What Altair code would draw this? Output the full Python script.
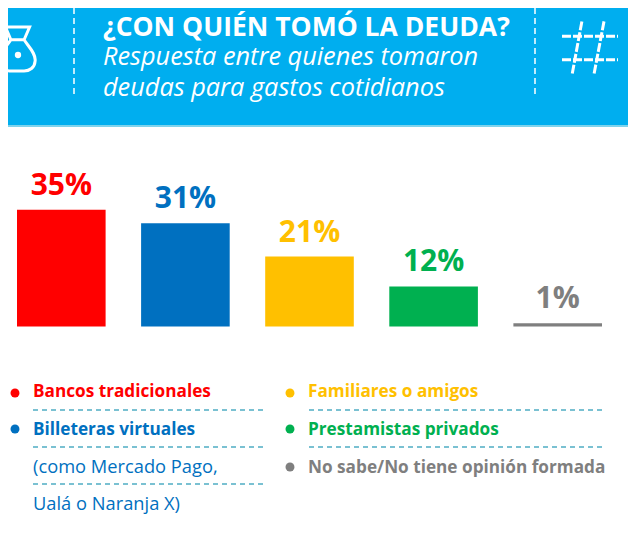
import altair as alt
import pandas as pd

categories = ["Bancos tradicionales", "Billeteras virtuales", "Familiares o amigos", "Prestamistas privados", "No sabe/No tiene opinión formada"]
values = [35, 31, 21, 12, 1]
colors = ["#FF0000", "#0070C0", "#FFC000", "#00B050", "#7F7F7F"]
labels = ["35%", "31%", "21%", "12%", "1%"]
title_text = "¿CON QUIÉN TOMÓ LA DEUDA?"
subtitle_lines = ["Respuesta entre quienes tomaron", "deudas para gastos cotidianos"]
blue_extra = ["(como Mercado Pago,", "Ualá o Naranja X)"]

FONT = "Open Sans"
OX, OY = 8, 8


def px(v):
    return alt.value(v - OX)


def py(v):
    return alt.value(v - OY)


def text(t, x, y, size, color, weight="normal", style="normal"):
    return alt.Chart(alt.Data(values=[{"t": t}])).mark_text(
        font=FONT, fontSize=size, color=color, fontWeight=weight, fontStyle=style,
        align="left", baseline="alphabetic",
    ).encode(x=px(x), y=py(y), text="t:N")


def hdash(x1, x2, y):
    return alt.Chart(alt.Data(values=[{"a": 1}])).mark_rule(
        color="#4FADC4", strokeWidth=1.5, strokeDash=[5, 4]
    ).encode(x=px(x1), x2=px(x2), y=py(y))


def vdash(x, y1, y2):
    return alt.Chart(alt.Data(values=[{"a": 1}])).mark_rule(
        color="#FFFFFF", strokeWidth=1.5, strokeDash=[6, 4]
    ).encode(x=px(x), y=py(y1), y2=py(y2))


def band(y1, y2, color):
    return alt.Chart(alt.Data(values=[{"a": 1}])).mark_rect(color=color).encode(
        x=alt.value(0), x2=alt.value(620), y=py(y1) if y1 >= OY else alt.value(0), y2=py(y2)
    )


def glyph(path, x, y, size, sw, dash=None):
    kw = {"strokeDash": dash} if dash else {}
    return alt.Chart(alt.Data(values=[{"a": 1}])).mark_point(
        shape=path, size=size, stroke="#FFFFFF", strokeWidth=sw, filled=False, opacity=1, **kw
    ).encode(x=px(x), y=py(y))


def bullet(x, y, color):
    return alt.Chart(alt.Data(values=[{"a": 1}])).mark_circle(
        size=80, color=color, opacity=1
    ).encode(x=px(x), y=py(y))


df = pd.DataFrame({"cat": categories, "val": values, "col": colors, "lab": labels})

x_scale = alt.Scale(domain=categories, range=[9, 594], paddingInner=0.286, paddingOuter=0)
y_scale = alt.Scale(domain=[-61.7, 95.6], range=[524, 0], nice=False, zero=False)

bars = alt.Chart(df).mark_bar(orient="vertical").encode(
    x=alt.X("cat:N", scale=x_scale, axis=None, sort=categories),
    y=alt.Y("val:Q", scale=y_scale, axis=None),
    y2=alt.Y2(datum=0),
    color=alt.Color("col:N", scale=None, legend=None),
)
bar_labels = alt.Chart(df).mark_text(
    font=FONT, fontSize=30, fontWeight="bold", baseline="alphabetic", align="center", dy=-15
).encode(
    x=alt.X("cat:N", scale=x_scale, axis=None, sort=categories, bandPosition=0.5),
    y=alt.Y("val:Q", scale=y_scale, axis=None),
    color=alt.Color("col:N", scale=None, legend=None),
    text="lab:N",
)

bag = ("M-0.55,-1 L0.55,-1 L0.3,-0.42 C0.5,-0.1 0.85,0.2 0.8,0.55 C0.78,0.85 0.55,1 0.3,1 "
       "L-0.3,1 C-0.55,1 -0.78,0.85 -0.8,0.55 C-0.85,0.2 -0.5,-0.1 -0.3,-0.42 Z "
       "M-0.3,-0.42 L0.3,-0.42")
hash_path = ("M-1,-0.42 L1,-0.42 M-1,0.42 L1,0.42 "
             "M-0.29,-0.95 L-0.64,0.95 M0.5,-0.95 L0.14,0.95")

layers = [
    band(0, 125, "#00AEEF"),
    band(125, 127, "#7FD3EC"),
    vdash(74, 8, 98),
    vdash(535, 8, 98),
    glyph(bag, 17.5, 49, 1936, 3),
    alt.Chart(alt.Data(values=[{"a": 1}])).mark_circle(size=40, color="#FFFFFF", opacity=1).encode(x=px(18), y=py(55)),
    glyph(hash_path, 590, 48, 3136, 3, [9, 2]),
    text(title_text, 103, 35.5, 26.5, "#FFFFFF", "bold"),
    text(subtitle_lines[0], 103, 65, 25.3, "#FFFFFF", "normal", "italic"),
    text(subtitle_lines[1], 103, 96, 25.3, "#FFFFFF", "normal", "italic"),
    bars,
    bar_labels,
    bullet(15, 393, colors[0]),
    bullet(15, 429, colors[1]),
    bullet(290, 393, colors[2]),
    bullet(290, 429, colors[3]),
    bullet(290, 467, colors[4]),
    text(categories[0], 33, 397, 17.2, colors[0], "bold"),
    text(categories[1], 33, 435, 17.2, colors[1], "bold"),
    text(blue_extra[0], 33, 473, 18.3, colors[1]),
    text(blue_extra[1], 33, 510, 18.3, colors[1]),
    text(categories[2], 308, 397, 17.2, colors[2], "bold"),
    text(categories[3], 308, 435, 17.2, colors[3], "bold"),
    text(categories[4], 308, 473, 17.2, colors[4], "bold"),
    hdash(33, 264, 410),
    hdash(33, 264, 447),
    hdash(33, 264, 484),
    hdash(309, 605, 410),
    hdash(309, 605, 447),
]

chart = alt.layer(*layers).resolve_scale(color="independent").properties(
    width=620, height=524, padding=0, autosize=alt.AutoSizeParams(type="none"), background="#FFFFFF"
).configure_view(stroke=None)

chart.save("out.html", embed_options={"renderer": "svg", "actions": False})
